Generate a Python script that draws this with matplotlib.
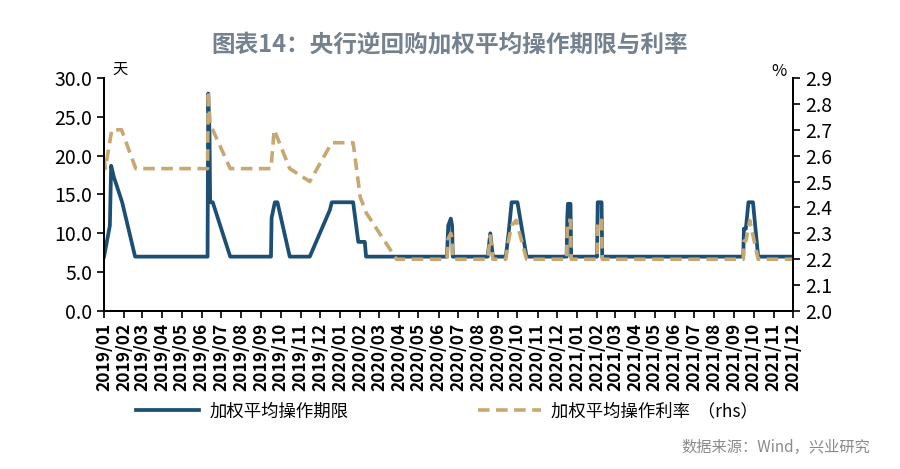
import matplotlib
matplotlib.use('Agg')
import matplotlib.pyplot as plt
import pandas as pd

plt.rcParams['font.family'] = ['Noto Sans CJK SC', 'DejaVu Sans']

# 加权平均操作期限（天）
term_dates = ['2019-01-01', '2019-01-10', '2019-01-12', '2019-01-16', '2019-01-29', '2019-02-18',
              '2019-06-10', '2019-06-11', '2019-06-13', '2019-06-14', '2019-06-18', '2019-07-15',
              '2019-09-16', '2019-09-17', '2019-09-22', '2019-09-26', '2019-10-15',
              '2019-11-15', '2019-12-16', '2019-12-19', '2020-01-21', '2020-01-29', '2020-02-08', '2020-02-10',
              '2020-06-14', '2020-06-16', '2020-06-20', '2020-06-22', '2020-06-23',
              '2020-08-16', '2020-08-20', '2020-08-24',
              '2020-09-13', '2020-09-17', '2020-09-22', '2020-10-01', '2020-10-15',
              '2020-12-16', '2020-12-17', '2020-12-18', '2020-12-22', '2020-12-23',
              '2021-02-01', '2021-02-02', '2021-02-08', '2021-02-09',
              '2021-09-15', '2021-09-16', '2021-09-19', '2021-09-23', '2021-09-30', '2021-10-08',
              '2021-12-01']
term_vals = [7, 11, 18.7, 17.3, 14, 7,
             7, 28, 23, 14, 14, 7,
             7, 12, 14, 14, 7,
             7, 13, 14, 14, 8.9, 8.9, 7,
             7, 11, 11.9, 11, 7,
             7, 10, 7,
             7, 9.8, 14, 14, 7,
             7, 12, 13.8, 13.8, 7,
             7, 14, 14, 7,
             7, 10.6, 10.6, 14, 14, 7,
             7]

# 加权平均操作利率（%，右轴）
rate_dates = ['2019-01-01', '2019-01-03', '2019-01-13', '2019-01-28', '2019-02-19',
              '2019-06-10', '2019-06-11', '2019-06-14', '2019-06-18', '2019-07-15',
              '2019-09-16', '2019-09-21', '2019-10-15', '2019-11-15',
              '2019-12-19', '2020-01-21', '2020-02-01', '2020-02-10', '2020-03-28',
              '2020-06-14', '2020-06-16', '2020-06-20', '2020-06-22', '2020-06-23',
              '2020-08-16', '2020-08-20', '2020-08-24',
              '2020-09-13', '2020-09-17', '2020-09-22', '2020-09-29', '2020-10-15',
              '2020-12-16', '2020-12-17', '2020-12-18', '2020-12-22', '2020-12-23',
              '2021-02-01', '2021-02-02', '2021-02-08', '2021-02-09',
              '2021-09-15', '2021-09-16', '2021-09-19', '2021-09-25', '2021-10-08',
              '2021-12-01']
rate_vals = [2.59, 2.55, 2.70, 2.70, 2.55,
             2.55, 2.85, 2.72, 2.70, 2.55,
             2.55, 2.70, 2.55, 2.50,
             2.65, 2.65, 2.44, 2.38, 2.20,
             2.20, 2.28, 2.30, 2.28, 2.20,
             2.20, 2.29, 2.20,
             2.20, 2.27, 2.33, 2.35, 2.20,
             2.20, 2.33, 2.35, 2.35, 2.20,
             2.20, 2.35, 2.35, 2.20,
             2.20, 2.27, 2.27, 2.35, 2.20,
             2.20]

left_ticks = [0, 5, 10, 15, 20, 25, 30]
right_ticks = [2.0, 2.1, 2.2, 2.3, 2.4, 2.5, 2.6, 2.7, 2.8, 2.9]
month_ticks = pd.date_range('2019-01-01', '2021-12-01', freq='MS')

blue = '#1d4e74'
tan = '#c6a872'

fig = plt.figure(figsize=(9, 4.69), dpi=100)
ax = fig.add_axes([0.1156, 0.3369, 0.7656, 0.4968])
ax2 = ax.twinx()

l1, = ax.plot(pd.to_datetime(term_dates), term_vals, color=blue, lw=2.7)
l2, = ax2.plot(pd.to_datetime(rate_dates), rate_vals, color=tan, lw=2.6, ls=(0, (3.2, 1.8)))

ax.set_xlim(month_ticks[0], month_ticks[-1])
ax.set_ylim(0, 30)
ax.set_yticks(left_ticks)
ax.set_yticklabels([f'{v:.1f}' for v in left_ticks], fontsize=14)
ax2.set_ylim(2.0, 2.9)
ax2.set_yticks(right_ticks)
ax2.set_yticklabels([f'{v:.1f}' for v in right_ticks], fontsize=14)

ax.set_xticks(month_ticks)
ax.set_xticklabels([d.strftime('%Y/%m') for d in month_ticks], rotation=90, fontsize=12.5,
                   fontweight='bold')

for a in (ax, ax2):
    a.spines['top'].set_visible(False)
    for s in a.spines.values():
        s.set_linewidth(1.3)
    a.tick_params(length=5, width=1.2, color='black', direction='out')

ax.text(0.012, 1.0, '天', transform=ax.transAxes, fontsize=11, va='bottom', ha='left')
ax2.text(0.99, 0.99, '%', transform=ax2.transAxes, fontsize=12, va='bottom', ha='right')

fig.text(0.5, 0.905, '图表14：央行逆回购加权平均操作期限与利率', ha='center', va='center',
         fontsize=17, color='#74828f', fontweight='bold')

fig.legend([l1, l2], ['加权平均操作期限', '加权平均操作利率  （rhs）'], loc='center',
           bbox_to_anchor=(0.497, 0.123), ncol=2, frameon=False,
           prop={'size': 12.5}, columnspacing=7.5, handlelength=3.6, handletextpad=0.6)

fig.text(0.967, 0.047, '数据来源：Wind，兴业研究', ha='right', va='center', fontsize=11, color='#8a8a8a')

fig.savefig('out.png', dpi=100)
